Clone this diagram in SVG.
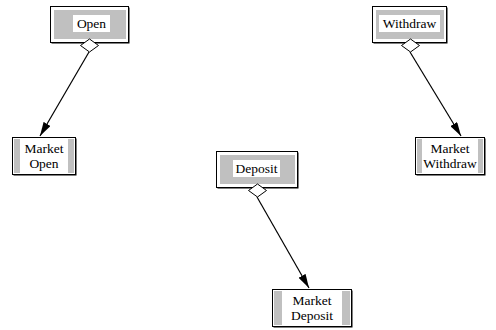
<svg xmlns="http://www.w3.org/2000/svg" width="496" height="330" viewBox="0 0 496 330">
  <defs>
    <marker id="arrow" viewBox="0 0 14 8" refX="14" refY="4" markerWidth="14" markerHeight="8" markerUnits="userSpaceOnUse" orient="auto">
      <path d="M0,0 L14,4 L0,8 Z" fill="#000"/>
    </marker>
  </defs>
  <style>
    .frame { fill: #fff; stroke: #000; stroke-width: 1; }
    .shadow { fill: #000; }
    .band { fill: #c0c0c0; }
    .label-bg { fill: #fff; }
    .diamond { fill: #fff; stroke: #000; stroke-width: 1; }
    .link { stroke: #000; stroke-width: 1.2; fill: none; marker-end: url(#arrow); }
    text { font-family: "Liberation Serif", "Times New Roman", serif; font-size: 13.5px; fill: #000; text-anchor: middle; }
  </style>

  <g id="connectors">
    <line class="link" x1="89" y1="52" x2="40" y2="136"/>
    <line class="link" x1="410" y1="52" x2="461" y2="136"/>
    <line class="link" x1="257" y1="197" x2="309" y2="288"/>
  </g>

  <g id="open">
    <rect class="shadow" x="51.5" y="7.5" width="78" height="36"/>
    <rect class="frame" x="50.5" y="6.5" width="78" height="36"/>
    <rect class="band" x="54" y="10" width="72" height="29"/>
    <rect class="label-bg" x="73" y="15" width="37" height="17"/>
    <text x="91.5" y="28">Open</text>
    <path class="diamond" d="M89.5,39 L98.5,45.5 L89.5,52 L80.5,45.5 Z"/>
  </g>

  <g id="withdraw">
    <rect class="shadow" x="373.5" y="7.5" width="74" height="36"/>
    <rect class="frame" x="372.5" y="6.5" width="74" height="36"/>
    <rect class="band" x="376" y="10" width="68" height="29"/>
    <rect class="label-bg" x="379" y="15" width="61" height="17"/>
    <text x="409.5" y="28">Withdraw</text>
    <path class="diamond" d="M410.5,39 L419.5,45.5 L410.5,52 L401.5,45.5 Z"/>
  </g>

  <g id="deposit">
    <rect class="shadow" x="217.5" y="152.5" width="81" height="36"/>
    <rect class="frame" x="216.5" y="151.5" width="81" height="36"/>
    <rect class="band" x="220" y="155" width="75" height="29"/>
    <rect class="label-bg" x="233" y="160" width="47" height="17"/>
    <text x="256.5" y="173">Deposit</text>
    <path class="diamond" d="M257.5,184 L266.5,190.5 L257.5,197 L248.5,190.5 Z"/>
  </g>

  <g id="market-open">
    <rect class="shadow" x="13.5" y="138.5" width="63" height="37"/>
    <rect class="frame" x="12.5" y="137.5" width="63" height="37"/>
    <rect class="band" x="14" y="139" width="60" height="34"/>
    <rect class="label-bg" x="20" y="139" width="48" height="34"/>
    <text x="44" y="153">Market</text>
    <text x="44" y="168">Open</text>
  </g>

  <g id="market-withdraw">
    <rect class="shadow" x="416.5" y="138.5" width="69" height="37"/>
    <rect class="frame" x="415.5" y="137.5" width="69" height="37"/>
    <rect class="band" x="417" y="139" width="66" height="34"/>
    <rect class="label-bg" x="422" y="139" width="56" height="34"/>
    <text x="450" y="153">Market</text>
    <text x="450" y="168">Withdraw</text>
  </g>

  <g id="market-deposit">
    <rect class="shadow" x="273.5" y="290.5" width="79" height="37"/>
    <rect class="frame" x="272.5" y="289.5" width="79" height="37"/>
    <rect class="band" x="274" y="291" width="76" height="34"/>
    <rect class="label-bg" x="282" y="291" width="60" height="34"/>
    <text x="312" y="305">Market</text>
    <text x="312" y="320">Deposit</text>
  </g>
</svg>
